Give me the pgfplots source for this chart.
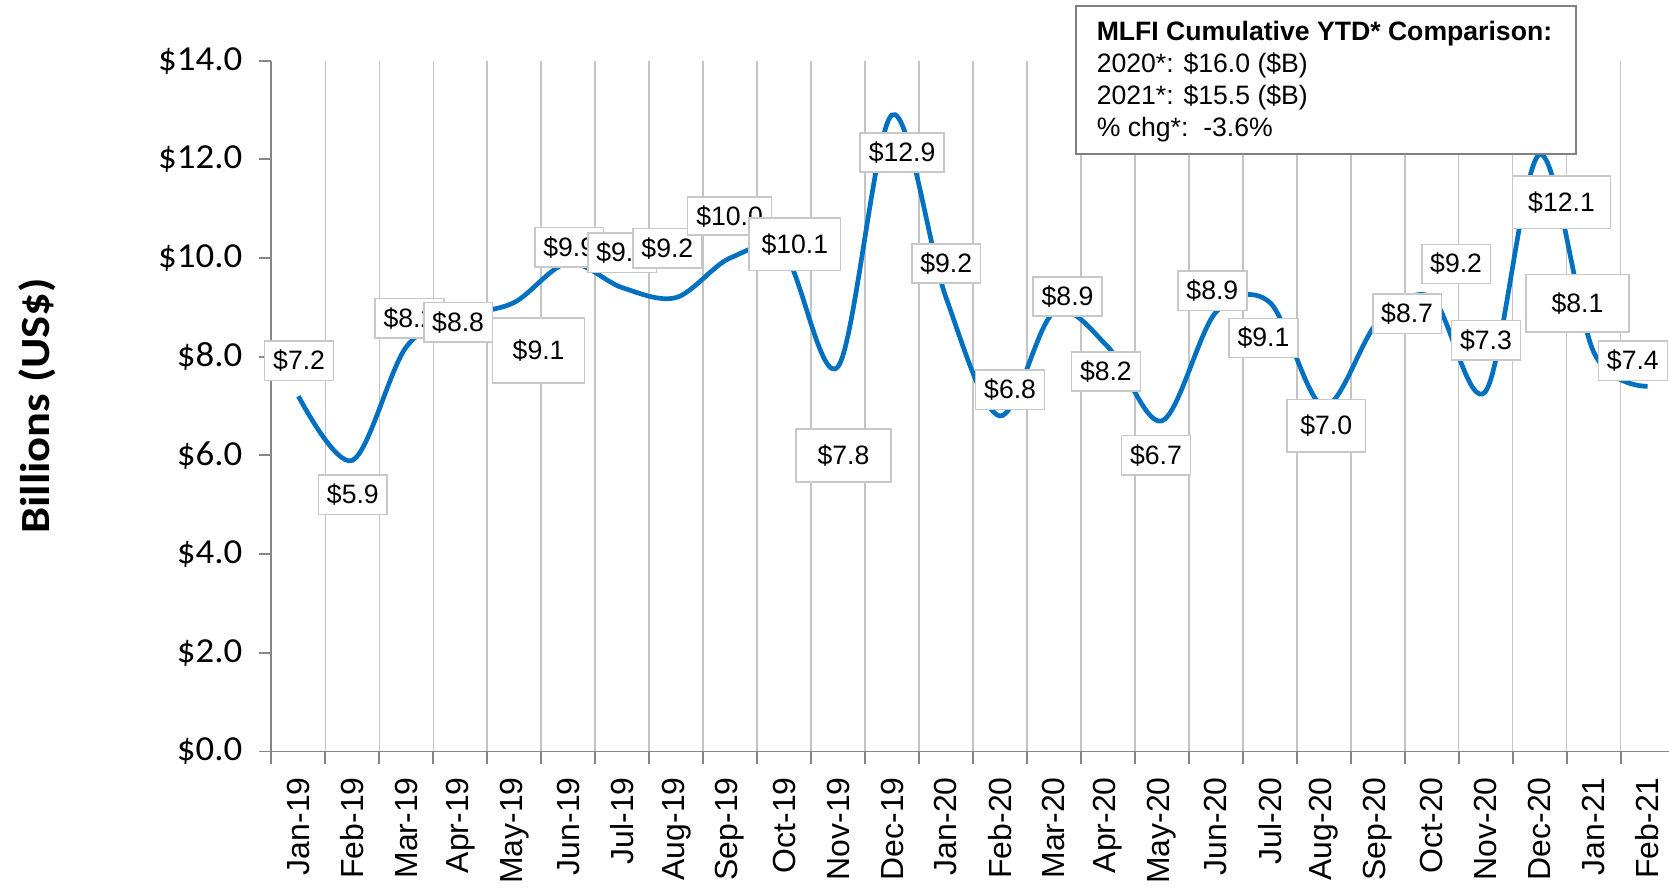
\documentclass[border=0pt]{standalone}
\usepackage{pgfplots}
\pgfplotsset{compat=1.18}
\usepackage{pgfplotstable}
\usepackage{fontspec}
\setmainfont{Liberation Sans}
\newfontfamily\calfont[FakeStretch=1.05]{Carlito}
\newfontfamily\caltitle[FakeStretch=1.12]{Carlito}

\definecolor{lineblue}{HTML}{0070C0}
\definecolor{gridgray}{HTML}{C4C4C4}
\definecolor{axisgray}{HTML}{868686}
\definecolor{lblgray}{HTML}{C8C8C8}
\definecolor{boxgray}{HTML}{808080}

\pgfplotstableread{
x y
0 7.2
1 5.9
2 8.2
3 8.8
4 9.1
5 9.9
6 9.4
7 9.2
8 10.0
9 10.1
10 7.8
11 12.9
12 9.2
13 6.8
14 8.9
15 8.2
16 6.7
17 8.9
18 9.1
19 7.0
20 8.7
21 9.2
22 7.3
23 12.1
24 8.1
25 7.4
}\datatable

\pgfplotstableread{
x y w h v
0.013 7.92 32.3 18.5 7.2
1.009 5.20 32.3 18.5 5.9
2.058 8.78 32.3 18.5 8.2
2.960 8.70 32.3 18.5 8.8
4.451 8.13 43.3 30.5 9.1
5.019 10.22 32.3 18.5 9.9
6.001 10.11 32.3 18.5 9.4
6.837 10.20 32.3 18.5 9.2
7.991 10.85 39.4 17.9 10.0
9.200 10.28 43.0 24.6 10.1
10.101 6.00 44.5 25.0 7.8
11.186 12.14 39.5 18.3 12.9
12.005 9.89 32.3 18.5 9.2
13.188 7.33 32.3 18.5 6.8
14.253 9.22 32.3 18.5 8.9
14.963 7.70 32.3 18.5 8.2
15.890 6.00 32.3 18.5 6.7
16.936 9.34 32.3 18.5 8.9
17.882 8.38 32.3 18.5 9.1
19.046 6.60 37.0 24.5 7.0
20.545 8.87 32.3 18.5 8.7
21.453 9.88 32.3 18.5 9.2
22.005 8.33 32.3 18.5 7.3
23.406 11.13 46.0 24.5 12.1
23.702 9.08 48.5 27.0 8.1
24.728 7.92 32.3 18.5 7.4
}\labeltable

\begin{document}
\begin{tikzpicture}
\useasboundingbox (-127.5pt,-64pt) rectangle (656.5pt,353pt);
\begin{axis}[
  at={(0,0)}, anchor=south west,
  scale only axis, width=659.1pt, height=324.5pt,
  xmin=-0.5, xmax=25.5, ymin=0, ymax=14,
  clip=false,
  axis lines*=left,
  axis line style={draw=axisgray, line width=0.9pt},
  tick align=outside,
  major tick length=6pt,
  tick style={draw=axisgray, line width=0.9pt},
  xtick={-0.5,0.5,...,25.5},
  x tick label as interval,
  xticklabels={Jan-19,Feb-19,Mar-19,Apr-19,May-19,Jun-19,Jul-19,Aug-19,Sep-19,Oct-19,Nov-19,Dec-19,Jan-20,Feb-20,Mar-20,Apr-20,May-20,Jun-20,Jul-20,Aug-20,Sep-20,Oct-20,Nov-20,Dec-20,Jan-21,Feb-21},
  xmajorgrids,
  major x grid style={draw=gridgray, line width=0.75pt},
  xticklabel shift=6pt,
  xticklabel style={font=\fontsize{15}{17}\selectfont, rotate=90, anchor=east, inner sep=0pt},
  ytick={0,2,...,14},
  yticklabels={\$0.0,\$2.0,\$4.0,\$6.0,\$8.0,\$10.0,\$12.0,\$14.0},
  yticklabel shift=7.5pt,
  yticklabel style={font=\calfont\fontsize{16.5}{19}\selectfont, anchor=east, inner sep=0pt},
  ylabel={Billions (US\$)},
  every axis y label/.style={at={(rel axis cs:0,0.5)}, xshift=-110pt, rotate=90, anchor=center, font=\caltitle\bfseries\fontsize{19.5}{22}\selectfont},
]
\addplot[lineblue, line width=2.2pt, smooth, tension=0.55, mark=none] table[x=x, y=y] {\datatable};
\addplot[draw=none, mark=none,
  visualization depends on={\thisrow{w} \as \bw},
  visualization depends on={\thisrow{h} \as \bh},
  point meta=explicit,
  nodes near coords={\$\pgfmathprintnumber[fixed,fixed zerofill,precision=1,assume math mode=true]{\pgfplotspointmeta}},
  nodes near coords style={anchor=center, draw=lblgray, fill=white, line width=0.7pt, inner sep=0pt, minimum width=\bw pt, minimum height=\bh pt, font=\fontsize{12.5}{15}\selectfont, text=black},
] table[x=x, y=y, meta=v] {\labeltable};
\end{axis}
\draw[draw=boxgray, line width=0.9pt, fill=white] (378pt,280.5pt) rectangle (613pt,350.2pt);
\node[anchor=north west, inner sep=0pt, align=left, font=\fontsize{12.5}{15}\selectfont] at (387.5pt,343pt)
  {\textbf{MLFI Cumulative YTD* Comparison:}\\2020*: \$16.0 (\$B)\\2021*: \$15.5 (\$B)\\\% chg*:\ \ -3.6\%};
\end{tikzpicture}
\end{document}
